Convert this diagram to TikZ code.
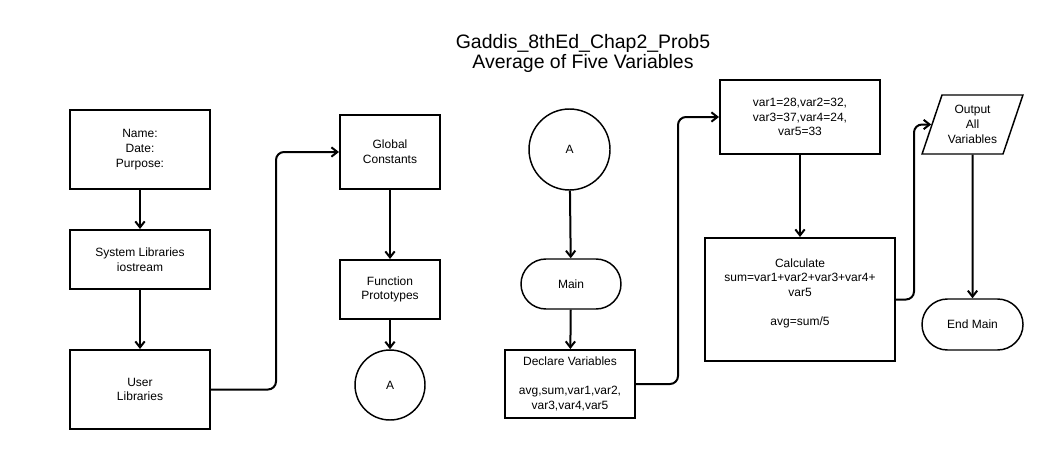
\documentclass[tikz,border=0pt]{standalone}
\usepackage{fontspec}
\setmainfont{Liberation Sans}
\usetikzlibrary{arrows.meta,shapes.geometric,shapes.misc}

\begin{document}
\begin{tikzpicture}[x=0.75pt,y=0.75pt,yscale=-1,xscale=1,
  txt/.style={font=\fontsize{9}{11}\selectfont,align=center,inner sep=0pt},
  procbox/.style={txt,draw,line width=1.5pt,rectangle},
  connector/.style={txt,draw,line width=1.1pt,circle,minimum size=52.5pt},
  terminal/.style={txt,draw,line width=1.1pt,rounded rectangle,minimum width=75.75pt,minimum height=38.25pt},
  iobox/.style={txt,draw,line width=1.1pt,trapezium,trapezium stretches=true,trapezium left angle=67,trapezium right angle=113},
  flow/.style={line width=1.5pt,rounded corners=6pt,-{Straight Barb[length=4.5pt,width=7pt]}}]
\useasboundingbox (0,0) rectangle (1048,450);

%Title
\node[font=\fontsize{14.6}{15}\selectfont,anchor=base,inner sep=0pt] (title) at (583,48) {Gaddis\_8thEd\_Chap2\_Prob5};
\node[font=\fontsize{14.6}{15}\selectfont,anchor=base,inner sep=0pt] (subtitle) at (583,68) {Average of Five Variables};

%Shape: Rectangle (header)
\node[procbox,minimum width=105pt,minimum height=59.25pt] (header) at (140,149.5) {Name:\\Date:\\Purpose:};
%Shape: Rectangle (system libraries)
\node[procbox,minimum width=105pt,minimum height=44.25pt] (syslib) at (140,259.5) {System Libraries\\iostream};
%Shape: Rectangle (user libraries)
\node[procbox,minimum width=105pt,minimum height=59.25pt] (userlib) at (140,389.5) {User\\Libraries};

%Shape: Rectangle (global constants)
\node[procbox,minimum width=75pt,minimum height=55.5pt] (global) at (390,152) {Global\\Constants};
%Shape: Rectangle (function prototypes)
\node[procbox,minimum width=75pt,minimum height=44.25pt] (proto) at (390,289.5) {Function\\Prototypes};
%Shape: Circle (off page A)
\node[connector] (outA) at (390,385) {A};

%Shape: Circle (on page A)
\node[connector,minimum size=60.75pt] (inA) at (569.5,149.5) {A};
%Shape: Terminal (main)
\node[terminal,minimum width=75pt,minimum height=37.5pt] (main) at (571,284) {Main};
%Shape: Rectangle (declare)
\node[procbox,minimum width=97.5pt,minimum height=51pt] (declare) at (570,384) {Declare Variables\\[11pt]avg,sum,var1,var2,\\var3,var4,var5};

%Shape: Rectangle (initialize)
\node[procbox,minimum width=120pt,minimum height=55.5pt] (init) at (800,117) {var1=28,var2=32,\\var3=37,var4=24,\\var5=33};
%Shape: Rectangle (calculate)
\node[procbox,minimum width=142.5pt,minimum height=92.25pt] (calc) at (800,299.5) {Calculate\\sum=var1+var2+var3+var4+\\var5\\[11pt]avg=sum/5\\\mbox{}};

%Shape: Data (output)
\node[iobox,minimum width=75.75pt,minimum height=44.25pt] (output) at (972.5,124.5) {Output\\All\\Variables};
%Shape: Terminal (end main)
\node[terminal] (endmain) at (972.5,324.5) {End Main};

%Straight Lines
\draw[flow] (header) -- (syslib);
\draw[flow] (syslib) -- (userlib);
\draw[flow] (global) -- (proto);
\draw[flow] (proto) -- (outA);
\draw[flow] (inA) -- (main);
\draw[flow] (main) -- (declare);
\draw[flow] (init) -- (calc);
\draw[flow] (output) -- (endmain);
%Elbow Lines
\draw[flow] (userlib.east) -- ++(65,0) |- (global.west);
\draw[flow] (declare.east) -- ++(42,0) |- (init.west);
\draw[flow] (calc.east) -- ++(18,0) |- (output.west);

\end{tikzpicture}
\end{document}
